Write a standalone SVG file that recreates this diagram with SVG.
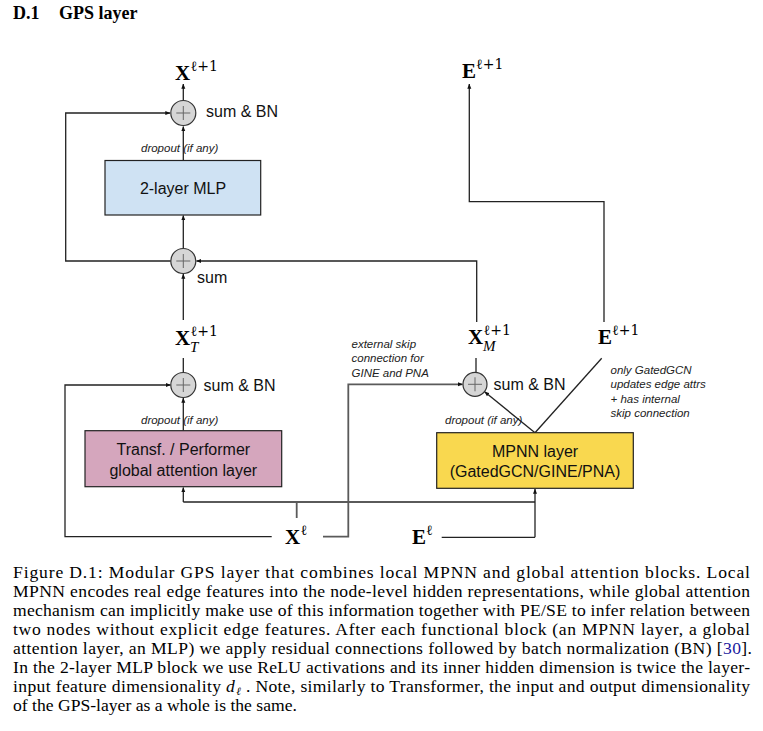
<svg xmlns="http://www.w3.org/2000/svg" width="763" height="731" viewBox="0 0 763 731">
<defs>
<marker id="ah" viewBox="0 0 8 8" refX="7.5" refY="4" markerWidth="5" markerHeight="5" orient="auto" markerUnits="userSpaceOnUse"><path d="M0,0.8 L8,4 L0,7.2 z" fill="#111"/></marker>
<style>
.ln{fill:none;stroke:#222;stroke-width:1.3}
.gl{fill:none;stroke:#5a5a5a;stroke-width:1.8}
.sum circle{fill:#d6d6d6;stroke:#333;stroke-width:1.2}
.sum path{stroke:#666;stroke-width:1;fill:none}
.box{stroke:#222;stroke-width:1.2}
.bt{font-family:"Liberation Sans",Arial,sans-serif;font-size:16px;fill:#111;text-anchor:middle}
.lab{font-family:"Liberation Sans",Arial,sans-serif;font-size:16px;fill:#111}
.it{font-family:"Liberation Sans",Arial,sans-serif;font-size:11.5px;font-style:italic;fill:#222}
.mx{font-family:"Liberation Serif","DejaVu Serif",serif;font-size:21px;font-weight:bold;fill:#000}
.ms{font-family:"DejaVu Serif","Liberation Serif",serif;font-size:14px;fill:#000}
.msi{font-family:"Liberation Serif","DejaVu Serif",serif;font-size:15px;font-style:italic;fill:#000}
.cap{font-family:"Liberation Serif","Times New Roman",serif;font-size:17.6px;fill:#000}
.ttl{font-family:"Liberation Serif","Times New Roman",serif;font-size:18px;font-weight:bold;fill:#000}
</style>
</defs>
<rect width="763" height="731" fill="#fff"/>

<g id="title"><text class="ttl" x="13" y="19">D.1</text><text class="ttl" x="59" y="19">GPS layer</text></g>

<g id="connectors">
<path class="ln" d="M183.3,100 V84" marker-end="url(#ah)"/>
<path class="ln" d="M183.3,160 V126.5" marker-end="url(#ah)"/>
<path class="ln" d="M183.3,248 V215.5" marker-end="url(#ah)"/>
<path class="ln" d="M170.8,261 H65.7 V113 H170" marker-end="url(#ah)"/>
<path class="ln" d="M476.7,322 V261 H196.5" marker-end="url(#ah)"/>
<path class="ln" d="M183.3,320 V274" marker-end="url(#ah)"/>
<path class="ln" d="M183.3,372.5 V358"/>
<path class="ln" d="M183.3,430.7 V398" marker-end="url(#ah)"/>
<path class="gl" d="M296.7,518 V502"/>
<path class="gl" d="M183.3,502 H535"/>
<path class="ln" d="M183.3,502 V487.5" marker-end="url(#ah)"/>
<path class="ln" d="M535,537.3 V489" marker-end="url(#ah)"/>
<path class="ln" d="M271.7,536.7 H65 V385 H170.5" marker-end="url(#ah)"/>
<path class="gl" d="M323,536.7 H348.3 V384.3 H462.5" marker-end="url(#ah)"/>
<path class="ln" d="M441.7,537.3 H535"/>
<path class="ln" d="M535,432.7 L484.6,391.8" marker-end="url(#ah)"/>
<path class="ln" d="M535,432.7 L601.7,358.3"/>
<path class="ln" d="M604,322 V201.7 H469.3 V84" marker-end="url(#ah)"/>
<path class="ln" d="M476,372 V358"/>
</g>

<g id="sum-top" class="sum"><circle cx="183.3" cy="113" r="12.5"/><path d="M176.3,113 H190.3 M183.3,106 V120"/></g>
<g id="sum-mid" class="sum"><circle cx="183.3" cy="261" r="12.5"/><path d="M176.3,261 H190.3 M183.3,254 V268"/></g>
<g id="sum-trans" class="sum"><circle cx="183.3" cy="385" r="12.5"/><path d="M176.3,385 H190.3 M183.3,378 V392"/></g>
<g id="sum-mpnn" class="sum"><circle cx="475" cy="384.3" r="12"/><path d="M468,384.3 H482 M475,377.3 V391.3"/></g>

<g id="n-mlp"><rect class="box" x="105" y="160.5" width="155.7" height="54.5" fill="#cfe2f3"/><text class="bt" x="183" y="193.5">2-layer MLP</text></g>
<g id="n-trans"><rect class="box" x="85" y="430.7" width="196.7" height="56" fill="#d5a6bd"/><text class="bt" x="183.3" y="455">Transf. / Performer</text><text class="bt" x="183.3" y="475.5">global attention layer</text></g>
<g id="n-mpnn"><rect class="box" x="436.7" y="432.7" width="196.6" height="55.6" fill="#f9d84f"/><text class="bt" x="535" y="457">MPNN layer</text><text class="bt" x="535" y="477">(GatedGCN/GINE/PNA)</text></g>

<g id="labels">
<text class="lab" x="206" y="117">sum &amp; BN</text>
<text class="it" x="141" y="152">dropout (if any)</text>
<text class="lab" x="197" y="283">sum</text>
<text class="lab" x="203.5" y="390.5">sum &amp; BN</text>
<text class="it" x="141" y="423.5">dropout (if any)</text>
<text class="lab" x="493.5" y="390">sum &amp; BN</text>
<text class="it" x="445" y="423.5">dropout (if any)</text>
<text class="it" x="351.5" y="347.5">external skip</text>
<text class="it" x="351.5" y="362">connection for</text>
<text class="it" x="351.5" y="376.5">GINE and PNA</text>
<text class="it" x="610.5" y="373.5">only GatedGCN</text>
<text class="it" x="610.5" y="388">updates edge attrs</text>
<text class="it" x="610.5" y="402.5">+ has internal</text>
<text class="it" x="610.5" y="417">skip connection</text>
</g>

<g id="math">
<g id="x-out"><text class="mx" x="175" y="80">X</text><text class="ms" x="190.5" y="71">ℓ+1</text></g>
<g id="e-out"><text class="mx" x="462" y="78">E</text><text class="ms" x="476" y="69">ℓ+1</text></g>
<g id="x-t"><text class="mx" x="175" y="345">X</text><text class="ms" x="190.5" y="336">ℓ+1</text><text class="msi" x="190" y="352">T</text></g>
<g id="x-m"><text class="mx" x="468" y="343.5">X</text><text class="ms" x="483.5" y="334.5">ℓ+1</text><text class="msi" x="483" y="350.5">M</text></g>
<g id="e-m"><text class="mx" x="598" y="343.5">E</text><text class="ms" x="612" y="334.5">ℓ+1</text></g>
<g id="x-in"><text class="mx" x="285" y="544">X</text><text class="ms" x="300.5" y="535">ℓ</text></g>
<g id="e-in"><text class="mx" x="412" y="544">E</text><text class="ms" x="426" y="535">ℓ</text></g>
</g>

<g id="caption">
<text class="cap" x="13" y="578" textLength="737" lengthAdjust="spacing">Figure D.1: Modular GPS layer that combines local MPNN and global attention blocks.  Local</text>
<text class="cap" x="13" y="597" textLength="737" lengthAdjust="spacing">MPNN encodes real edge features into the node-level hidden representations, while global attention</text>
<text class="cap" x="13" y="616" textLength="737" lengthAdjust="spacing">mechanism can implicitly make use of this information together with PE/SE to infer relation between</text>
<text class="cap" x="13" y="635" textLength="737" lengthAdjust="spacing">two nodes without explicit edge features.  After each functional block (an MPNN layer, a global</text>
<text class="cap" x="13" y="654" textLength="739" lengthAdjust="spacing">attention layer, an MLP) we apply residual connections followed by batch normalization (BN) [<tspan fill="#1a1aa0">30</tspan>].</text>
<text class="cap" x="13" y="673" textLength="737" lengthAdjust="spacing">In the 2-layer MLP block we use ReLU activations and its inner hidden dimension is twice the layer-</text>
<text class="cap" x="13" y="692" textLength="208" lengthAdjust="spacing">input feature dimensionality</text>
<text class="cap" x="226" y="692" font-style="italic">d<tspan font-size="11" dx="1.5" dy="3">ℓ</tspan></text>
<text class="cap" x="246" y="692" textLength="504" lengthAdjust="spacing">. Note, similarly to Transformer, the input and output dimensionality</text>
<text class="cap" x="13" y="711">of the GPS-layer as a whole is the same.</text>
</g>
</svg>
